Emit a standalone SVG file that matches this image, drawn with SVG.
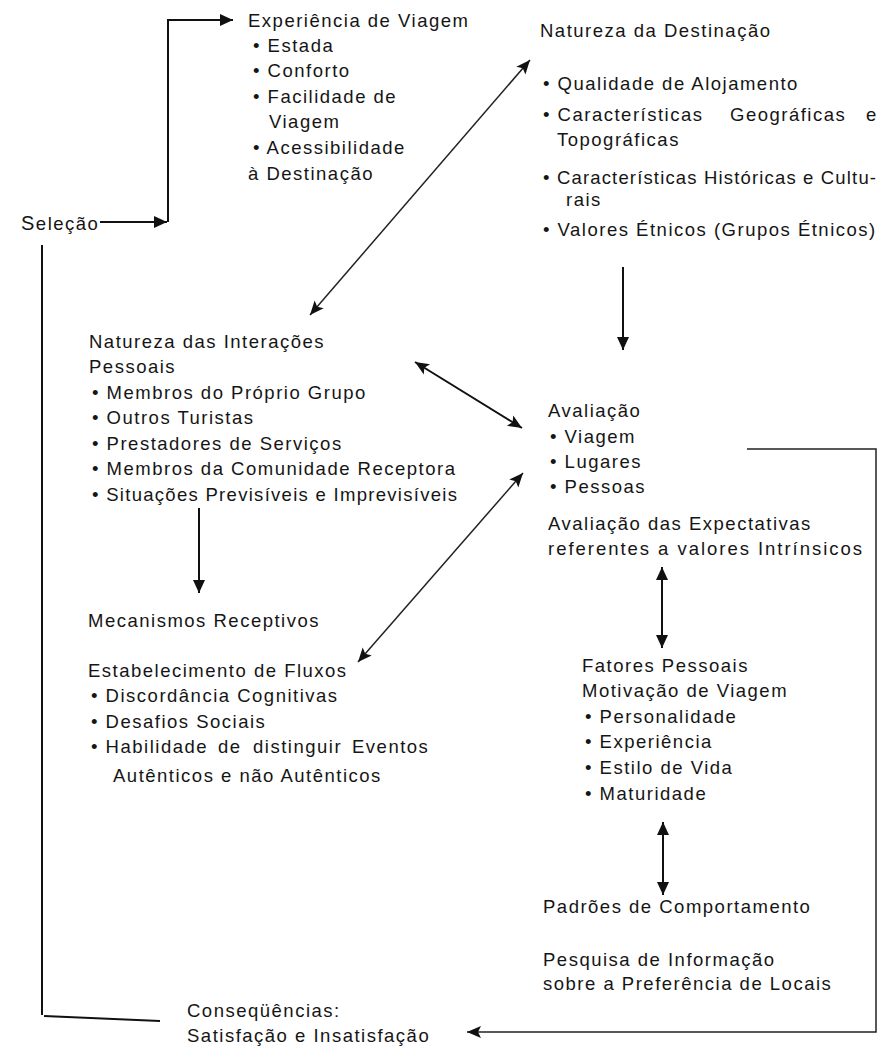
<svg xmlns="http://www.w3.org/2000/svg" width="881" height="1048" viewBox="0 0 881 1048">
<style>
text{font-family:"Liberation Sans",Arial,sans-serif;font-size:18.5px;letter-spacing:1.5px;fill:#151515}
.fit{letter-spacing:0}
.c{fill:none;stroke:#111;stroke-width:2}
.t{fill:none;stroke:#222;stroke-width:1.5}
</style>
<defs>
<marker id="ah" markerUnits="userSpaceOnUse" markerWidth="16" markerHeight="14" refX="14" refY="6" orient="auto-start-reverse" viewBox="0 0 16 12">
<path d="M0,0 L14,6 L0,12 L3,6 z" fill="#111"/>
</marker>
<marker id="at" markerUnits="userSpaceOnUse" markerWidth="16" markerHeight="14" refX="13" refY="6" orient="auto-start-reverse" viewBox="0 0 16 12">
<path d="M0,0 L13,6 L0,12 z" fill="#111"/>
</marker>
</defs>
<rect width="881" height="1048" fill="#fff"/>
<g id="connectors">
<line class="c" x1="100" y1="222" x2="167" y2="222" marker-end="url(#at)"/>
<polyline class="c" points="168,222 168,20 233,20" marker-end="url(#at)"/>
<line class="c" x1="42" y1="245" x2="42" y2="1015"/>
<line class="c" x1="44" y1="1016" x2="160" y2="1021"/>
<line class="t" x1="310" y1="315" x2="530" y2="60" marker-start="url(#ah)" marker-end="url(#ah)"/>
<line class="c" x1="623" y1="267" x2="623" y2="350" marker-end="url(#at)"/>
<line class="c" x1="415" y1="362" x2="522" y2="428" marker-start="url(#ah)" marker-end="url(#ah)"/>
<line class="t" x1="523" y1="473" x2="358" y2="662" marker-start="url(#ah)" marker-end="url(#ah)"/>
<line class="c" x1="199" y1="508" x2="199" y2="593" marker-end="url(#at)"/>
<line class="c" x1="662" y1="567" x2="662" y2="648" marker-start="url(#at)" marker-end="url(#at)"/>
<line class="c" x1="663" y1="822" x2="663" y2="895" marker-start="url(#at)" marker-end="url(#at)"/>
<polyline class="t" points="747,449 876,449 876,1032 467,1032" marker-end="url(#ah)"/>
</g>
<g id="selecao"><text x="21" y="230"><tspan font-size="20">S</tspan>eleção</text></g>
<g id="experiencia">
<text x="248" y="27">Experiência de Viagem</text>
<text x="253" y="52">• Estada</text>
<text x="253" y="77">• Conforto</text>
<text x="253" y="103">• Facilidade de</text>
<text x="269" y="128">Viagem</text>
<text x="253" y="154">• Acessibilidade</text>
<text x="248" y="180">à Destinação</text>
</g>
<g id="destinacao">
<text x="540" y="37">Natureza da Destinação</text>
<text x="543" y="90">• Qualidade de Alojamento</text>
<text y="121"><tspan x="543">• Características</tspan><tspan x="730">Geográficas</tspan><tspan x="866">e</tspan></text>
<text x="557" y="146">Topográficas</text>
<text class="fit" x="543" y="184" textLength="333" lengthAdjust="spacing">• Características Históricas e Cultu-</text>
<text x="566" y="206">rais</text>
<text x="543" y="236">• Valores Étnicos (Grupos Étnicos)</text>
</g>
<g id="interacoes">
<text x="89" y="348">Natureza das Interações</text>
<text x="89" y="373">Pessoais</text>
<text x="92" y="399">• Membros do Próprio Grupo</text>
<text x="92" y="424">• Outros Turistas</text>
<text x="92" y="450">• Prestadores de Serviços</text>
<text x="92" y="475">• Membros da Comunidade Receptora</text>
<text class="fit" x="92" y="501" textLength="365" lengthAdjust="spacing">• Situações Previsíveis e Imprevisíveis</text>
</g>
<g id="mecanismos"><text x="88" y="627">Mecanismos Receptivos</text></g>
<g id="fluxos">
<text x="88" y="677">Estabelecimento de Fluxos</text>
<text x="91" y="702">• Discordância Cognitivas</text>
<text x="91" y="728">• Desafios Sociais</text>
<text y="753"><tspan x="91">• Habilidade</tspan><tspan x="218">de</tspan><tspan x="253">distinguir</tspan><tspan x="352">Eventos</tspan></text>
<text x="113" y="782">Autênticos e não Autênticos</text>
</g>
<g id="avaliacao">
<text x="548" y="417">Avaliação</text>
<text x="550" y="443">• Viagem</text>
<text x="550" y="468">• Lugares</text>
<text x="550" y="493">• Pessoas</text>
<text x="548" y="530">Avaliação das Expectativas</text>
<text class="fit" x="548" y="555" textLength="314" lengthAdjust="spacing">referentes a valores Intrínsicos</text>
</g>
<g id="fatores">
<text x="582" y="672">Fatores Pessoais</text>
<text x="582" y="697">Motivação de Viagem</text>
<text x="585" y="723">• Personalidade</text>
<text x="585" y="748">• Experiência</text>
<text x="585" y="774">• Estilo de Vida</text>
<text x="585" y="800">• Maturidade</text>
</g>
<g id="padroes"><text x="543" y="913">Padrões de Comportamento</text></g>
<g id="pesquisa">
<text x="543" y="966">Pesquisa de Informação</text>
<text x="543" y="990">sobre a Preferência de Locais</text>
</g>
<g id="consequencias">
<text x="187" y="1017">Conseqüências:</text>
<text x="187" y="1042">Satisfação e Insatisfação</text>
</g>
</svg>
